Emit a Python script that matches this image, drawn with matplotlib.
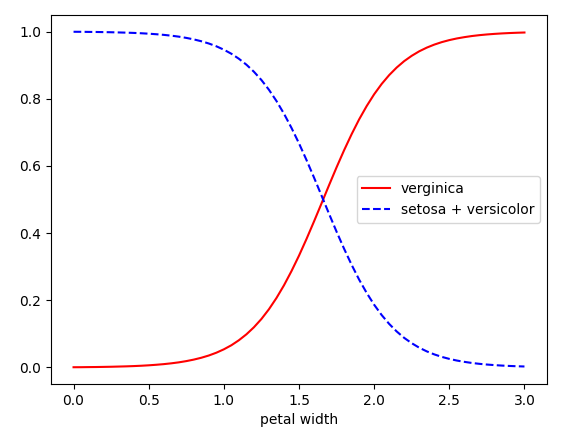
import matplotlib
matplotlib.use("Agg")
import matplotlib.pyplot as plt

petal_width = [0.00, 0.05, 0.10, 0.15, 0.20, 0.25, 0.30, 0.35, 0.40, 0.45,
               0.50, 0.55, 0.60, 0.65, 0.70, 0.75, 0.80, 0.85, 0.90, 0.95,
               1.00, 1.05, 1.10, 1.15, 1.20, 1.25, 1.30, 1.35, 1.40, 1.45,
               1.50, 1.55, 1.60, 1.65, 1.70, 1.75, 1.80, 1.85, 1.90, 1.95,
               2.00, 2.05, 2.10, 2.15, 2.20, 2.25, 2.30, 2.35, 2.40, 2.45,
               2.50, 2.55, 2.60, 2.65, 2.70, 2.75, 2.80, 2.85, 2.90, 2.95, 3.00]
p_virginica = [0.0008, 0.0009, 0.0012, 0.0014, 0.0018, 0.0022, 0.0028, 0.0034,
               0.0042, 0.0052, 0.0065, 0.0081, 0.0100, 0.0124, 0.0153, 0.0190,
               0.0235, 0.0290, 0.0357, 0.0440, 0.0541, 0.0662, 0.0811, 0.0987,
               0.1197, 0.1444, 0.1734, 0.2068, 0.2446, 0.2869, 0.3329, 0.3826,
               0.4348, 0.4885, 0.5427, 0.5958, 0.6466, 0.6943, 0.7384, 0.7779,
               0.8132, 0.8439, 0.8703, 0.8928, 0.9119, 0.9277, 0.9411, 0.9520,
               0.9610, 0.9684, 0.9744, 0.9793, 0.9832, 0.9865, 0.9891, 0.9912,
               0.9929, 0.9943, 0.9954, 0.9963, 0.9970]
p_other = [0.9992, 0.9991, 0.9988, 0.9986, 0.9982, 0.9978, 0.9972, 0.9966,
           0.9958, 0.9948, 0.9935, 0.9919, 0.9900, 0.9876, 0.9847, 0.9810,
           0.9765, 0.9710, 0.9643, 0.9560, 0.9459, 0.9338, 0.9189, 0.9013,
           0.8803, 0.8556, 0.8266, 0.7932, 0.7554, 0.7131, 0.6671, 0.6174,
           0.5652, 0.5115, 0.4573, 0.4042, 0.3534, 0.3057, 0.2616, 0.2221,
           0.1868, 0.1561, 0.1297, 0.1072, 0.0881, 0.0723, 0.0589, 0.0480,
           0.0390, 0.0316, 0.0256, 0.0207, 0.0168, 0.0135, 0.0109, 0.0088,
           0.0071, 0.0057, 0.0046, 0.0037, 0.0030]

fig = plt.figure(figsize=(5.63, 4.33), dpi=100)
ax = fig.add_axes([51/563, 1-384/433, 496/563, 369/433])
ax.plot(petal_width, p_virginica, "r-", label="verginica")
ax.plot(petal_width, p_other, "b--", label="setosa + versicolor")
ax.set_xlabel("petal width")
ax.legend(loc="center right")
fig.savefig("out.png", dpi=100)
